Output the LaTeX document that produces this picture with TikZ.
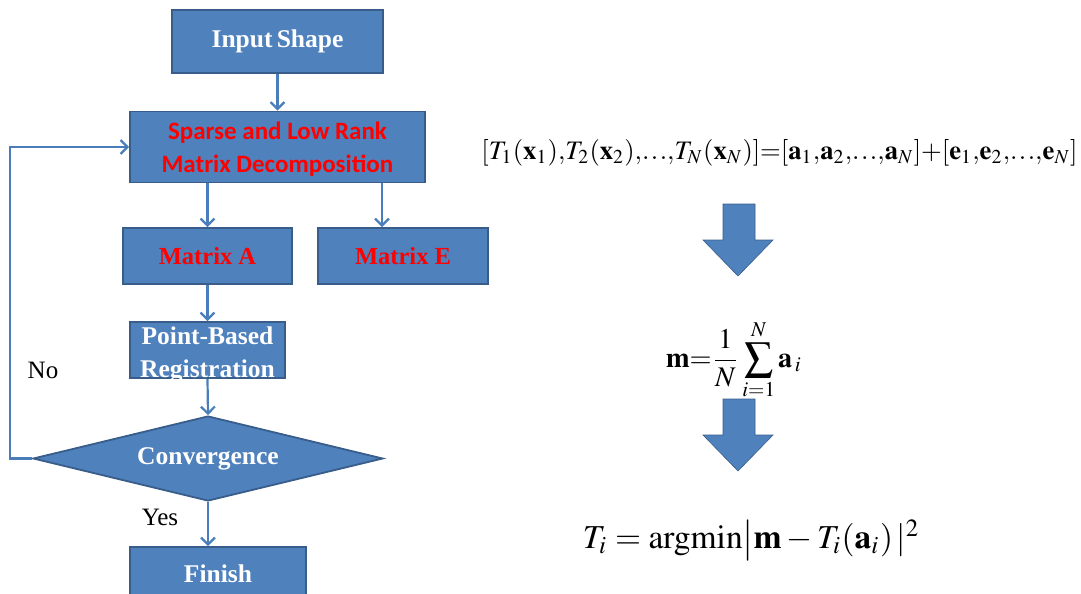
\documentclass[tikz,border=0pt]{standalone}
\usepackage{mathptmx}
\usepackage{fontspec}
\setmainfont{Liberation Serif}
\newfontfamily\calib{Carlito}
\usetikzlibrary{arrows.meta,shapes.geometric}
\definecolor{boxfill}{HTML}{4F81BD}
\definecolor{boxdraw}{HTML}{385D8A}
\definecolor{lineblue}{HTML}{4A7EBB}
\definecolor{redtxt}{HTML}{FF0000}
\tikzset{
  box/.style={draw=boxdraw, line width=1.8pt, fill=boxfill, inner sep=0pt, align=center},
  wtxt/.style={text=white, font=\fontsize{25.5}{33}\selectfont\bfseries},
  rtxt/.style={text=redtxt, font=\fontsize{24.5}{28}\selectfont\bfseries},
  ctxt/.style={text=redtxt, font=\fontsize{25}{33}\selectfont\calib\bfseries},
  conn/.style={draw=lineblue, line width=2.2pt, -{Straight Barb[length=7pt,width=14pt,line width=2.2pt]}},
  lbl/.style={font=\fontsize{25}{28}\selectfont, inner sep=0pt},
  bigarrow/.style={fill=boxfill, draw=boxdraw, line width=0.6pt},
}
\newcommand{\cm}{\mathord{,}}
\newcommand{\dts}{\mathord{.\mkern1mu.\mkern1mu.}}
\begin{document}
\begin{tikzpicture}[x=1pt,y=-1pt]
\useasboundingbox (0,0) rectangle (1081,594);
\begin{scope}
\clip (0,0) rectangle (1081,594);
% nodes
\node[box, wtxt, minimum width=211pt, minimum height=63pt] (input) at (277.5,41.5) {Input\,Shape};
\node[box, minimum width=295pt, minimum height=71pt] (sparse) at (277.5,147) {};
\node[ctxt, align=center, inner sep=0pt] (sparset) at (277.5,149) {Sparse and Low Rank\\Matrix Decomposition};
\node[box, rtxt, minimum width=169pt, minimum height=56pt] (ma) at (207.5,256) {Matrix A};
\node[box, rtxt, minimum width=170pt, minimum height=56pt] (me) at (403,256) {Matrix E};
\node[box, minimum width=155pt, minimum height=56pt] (pb) at (207.5,350) {};
\node[wtxt, align=center, inner sep=0pt] (pbt) at (207.5,355) {Point-Based\\Registration};
\node[diamond, box, wtxt, minimum width=350pt, minimum height=85pt, aspect=4] (conv) at (208,458.5) {Convergence};
\node[box, wtxt, minimum width=176pt, minimum height=53pt] (fin) at (218,573.5) {Finish};
\end{scope}
\coordinate (ex) at (382,0);
\coordinate (loopx) at (10,0);
% connectors
\draw[conn] (input.south) -- (input.south |- sparse.north);
\draw[conn] (sparse.south -| ma.north) -- (ma.north);
\draw[conn] (sparse.south -| ex) -- (me.north -| ex);
\draw[conn] (ma.south) -- (pb.north);
\draw[conn] (pb.south) -- (conv.north);
\draw[conn] (conv.south) -- (conv.south |- fin.north);
\draw[conn] (conv.west) -- (conv.west -| loopx) -- (sparse.west -| loopx) -- (sparse.west);
\node[lbl] (no) at (43,370) {No};
\node[lbl] (yes) at (160,517) {Yes};
% equations
\node[inner sep=0pt] (eq1) at (779.5,153) {\resizebox{596pt}{!}{$[T_1(\mathbf{x}_1)\cm T_2(\mathbf{x}_2)\cm\dts\cm T_N(\mathbf{x}_N)]\mathord{=}[\mathbf{a}_1\cm\mathbf{a}_2\cm\dts\cm\mathbf{a}_N]\mathord{+}[\mathbf{e}_1\cm\mathbf{e}_2\cm\dts\cm\mathbf{e}_N]$}};
\node[inner sep=0pt] (eq2) at (734,360) {\resizebox{136pt}{!}{$\displaystyle\mathbf{m}\mathord{=}\frac{1}{N}\sum_{i=1}^{N}\mathbf{a}_{\,i}$}};
\node[inner sep=0pt] (eq3) at (751.5,540) {\resizebox{337pt}{!}{$T_i=\mathrm{argmin}\big|\mathbf{m}-T_i(\mathbf{a}_i)\,|^2$}};
% block arrows
\draw[bigarrow] (723,204) -- (755,204) -- (755,240) -- (773,240) -- (738,276) -- (703,240) -- (723,240) -- cycle;
\draw[bigarrow] (723,399) -- (755,399) -- (755,435) -- (773,435) -- (738,471) -- (703,435) -- (723,435) -- cycle;
\end{tikzpicture}
\end{document}
